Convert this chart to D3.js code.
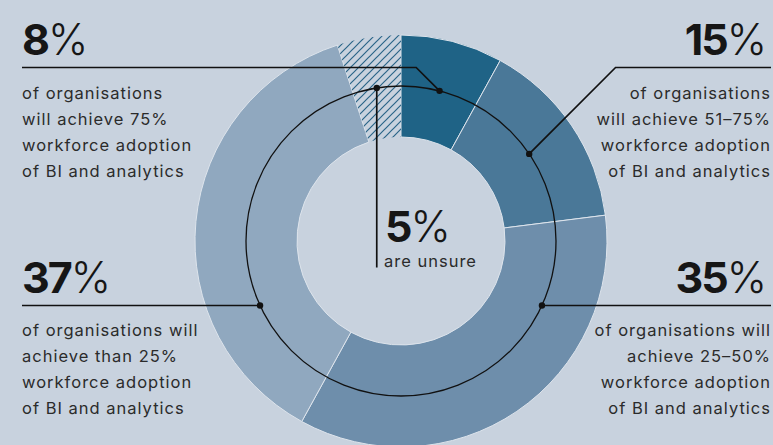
<!DOCTYPE html>
<html>
<head>
<meta charset="utf-8">
<script src="https://cdn.jsdelivr.net/npm/d3@7"></script>
<style>
  html, body { margin: 0; padding: 0; background: #c8d2de; }
  svg { display: block; }
  .num { font-family: "Inter", "Noto Sans", sans-serif; font-size: 43px; fill: #161616; }
  .body { font-family: "Inter", "Noto Sans", sans-serif; font-size: 16.5px; fill: #2b2b2b; letter-spacing: 1px; }
</style>
</head>
<body>
<svg id="chart" width="773" height="445"></svg>
<script>
// Share of organisations by expected workforce adoption of BI and analytics
const segments = ["75%+", "51–75%", "25–50%", "Under 25%", "Unsure"];
const shares = [8, 15, 35, 37, 5];
const sliceColors = ["#1f6386", "#4a7898", "#6e8eab", "#90a8bf", "url(#hatch)"];

const descriptions = [
  ["of organisations", "will achieve 75%", "workforce adoption", "of BI and analytics"],
  ["of organisations", "will achieve 51–75%", "workforce adoption", "of BI and analytics"],
  ["of organisations will", "achieve 25–50%", "workforce adoption", "of BI and analytics"],
  ["of organisations will", "achieve than 25%", "workforce adoption", "of BI and analytics"],
  ["are unsure"]
];

const W = 773, H = 445;
const cx = 401, cy = 241;
const rOuter = 206, rInner = 104, rGuide = 155;

const svg = d3.select("#chart");

// hatch pattern for the "unsure" slice
const defs = svg.append("defs");
const pat = defs.append("pattern")
  .attr("id", "hatch")
  .attr("patternUnits", "userSpaceOnUse")
  .attr("width", 8).attr("height", 8);
pat.append("path")
  .attr("d", "M0,8 L8,0 M-2,2 L2,-2 M6,10 L10,6")
  .attr("stroke", "#2a6488")
  .attr("stroke-width", 1.2)
  .attr("fill", "none");

const pie = d3.pie().sort(null).value(d => d);
const arcs = pie(shares);
const arc = d3.arc().innerRadius(rInner).outerRadius(rOuter);

const g = svg.append("g").attr("transform", `translate(${cx},${cy})`);

g.selectAll("path.slice")
  .data(arcs)
  .join("path")
  .attr("class", "slice")
  .attr("d", arc)
  .attr("fill", (d, i) => sliceColors[i])
  .attr("stroke", "#dde4ec")
  .attr("stroke-width", (d, i) => i === 4 ? 0 : 1);

// thin guide ring through the donut
g.append("circle")
  .attr("r", rGuide)
  .attr("fill", "none")
  .attr("stroke", "#111")
  .attr("stroke-width", 1.3);

// point on the guide ring at a slice's middle angle
function ringPoint(d) {
  const a = (d.startAngle + d.endAngle) / 2;
  return [cx + rGuide * Math.sin(a), cy - rGuide * Math.cos(a)];
}
// point on the guide ring at a given height, on the left or right side
function ringAtY(y, side) {
  const dx = Math.sqrt(rGuide * rGuide - (y - cy) * (y - cy));
  return [cx + side * dx, y];
}

const leftX = 22, rightX = 770;
const topRule = 67.5, lowRule = 305.5;

const leaders = [];
// 8% — horizontal rule, then a 45° drop to the ring
{
  const p = ringPoint(arcs[0]);
  const bend = p[0] - (p[1] - topRule);
  leaders.push({ d: `M${leftX},${topRule}H${bend}L${p[0]},${p[1]}`, dot: p });
}
// 15% — 45° rise from the ring, then horizontal rule
{
  const p = ringPoint(arcs[1]);
  const bend = p[0] + (p[1] - topRule);
  leaders.push({ d: `M${p[0]},${p[1]}L${bend},${topRule}H${rightX + 1}`, dot: p });
}
// 35% — right rule meets the ring
{
  const p = ringAtY(lowRule, 1);
  leaders.push({ d: `M${p[0]},${p[1]}H${rightX + 1}`, dot: p });
}
// 37% — left rule meets the ring
{
  const p = ringAtY(lowRule, -1);
  leaders.push({ d: `M${leftX},${p[1]}H${p[0]}`, dot: p });
}
// 5% — vertical drop from the ring into the hole
{
  const p = ringPoint(arcs[4]);
  leaders.push({ d: `M${p[0]},${p[1]}V267.5`, dot: p });
}

svg.selectAll("path.leader")
  .data(leaders)
  .join("path")
  .attr("class", "leader")
  .attr("d", d => d.d)
  .attr("fill", "none")
  .attr("stroke", "#111")
  .attr("stroke-width", 1.7);

svg.selectAll("circle.dot")
  .data(leaders)
  .join("circle")
  .attr("class", "dot")
  .attr("cx", d => d.dot[0])
  .attr("cy", d => d.dot[1])
  .attr("r", 3.2)
  .attr("fill", "#111");

// headline numbers and descriptions
const labels = [
  { i: 0, x: leftX, anchor: "start", numY: 55, bodyY: 99 },
  { i: 1, x: rightX, anchor: "end", numY: 55, bodyY: 99 },
  { i: 2, x: rightX, anchor: "end", numY: 292.5, bodyY: 336 },
  { i: 3, x: leftX, anchor: "start", numY: 292.5, bodyY: 336 },
  { i: 4, x: 385, anchor: "start", numY: 241.5, bodyY: 266.5 }
];

labels.forEach(l => {
  const t = svg.append("text")
    .attr("class", "num")
    .attr("x", l.anchor === "end" ? l.x - 3 : l.x)
    .attr("y", l.numY)
    .attr("text-anchor", l.anchor);
  t.append("tspan").attr("font-weight", 700).attr("letter-spacing", "-2px").text(shares[l.i]);
  t.append("tspan").attr("font-weight", 300).attr("dx", 0).text("%");

  const body = svg.append("text")
    .attr("class", "body")
    .attr("text-anchor", l.anchor);
  descriptions[l.i].forEach((line, k) => {
    body.append("tspan")
      .attr("x", l.i === 4 ? l.x - 1 : (l.anchor === "end" ? l.x + 1 : l.x))
      .attr("y", l.bodyY + k * 26)
      .text(line);
  });
});
</script>
</body>
</html>
